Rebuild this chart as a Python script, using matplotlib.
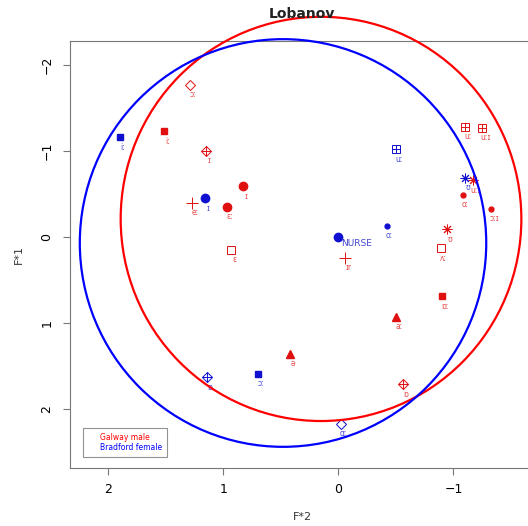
import matplotlib
matplotlib.use("Agg")
import matplotlib.pyplot as plt
from matplotlib.patches import Ellipse
from matplotlib.lines import Line2D

# Galway male vowels (F*2, F*1), Lobanov normalised
galway_x = [1.29, 1.51, 1.15, 0.83, 1.27, 0.97, 0.93, 0.42, -0.50, -0.90,
            -0.89, -0.94, -1.08, -1.33, -1.17, -1.10, -1.25, -0.06, -0.56]
galway_y = [-1.77, -1.23, -1.00, -0.59, -0.40, -0.35, 0.15, 1.36, 0.93, 0.69,
            0.13, -0.09, -0.49, -0.33, -0.66, -1.28, -1.27, 0.24, 1.71]
galway_lab = ["ɔː", "iː", "ɪ", "ɪ", "eː", "ɛː", "ɛ", "ə", "aː", "ɒː",
              "ʌː", "ʊ", "oː", "ɔːɪ", "uːɪ", "uː", "uːɪ", "ɪr", "ɒ"]
galway_pch = ["odiamond", "square", "diamondplus", "circle", "plus", "circle",
              "osquare", "triangle", "triangle", "square", "osquare", "asterisk",
              "dot", "dot", "asterisk", "squareplus", "squareplus", "plus",
              "diamondplus"]

# Bradford female vowels
bradford_x = [1.90, 1.16, -0.50, -1.10, -0.42, 0.0, 0.70, 1.14, -0.02]
bradford_y = [-1.16, -0.45, -1.02, -0.69, -0.13, 0.0, 1.59, 1.63, 2.17]
bradford_lab = ["iː", "ɪ", "uː", "ʊ", "oː", "NURSE", "ɔː", "ɒ", "ɑː"]
bradford_pch = ["square", "circle", "squareplus", "asterisk", "dot", "circle",
                "square", "diamondplus", "odiamond"]

# circles: centre x, centre y, half-width, half-height (data units)
galway_circle = (0.15, -0.21, 1.74, 2.35)
bradford_circle = (0.48, 0.07, 1.765, 2.37)


def draw_point(ax, x, y, kind, col):
    if kind == "odiamond":
        ax.plot(x, y, marker="D", ms=5.5, mfc="none", mec=col, mew=0.7, color=col)
    elif kind == "square":
        ax.plot(x, y, marker="s", ms=5, color=col)
    elif kind == "osquare":
        ax.plot(x, y, marker="s", ms=5.5, mfc="none", mec=col, mew=0.7, color=col)
    elif kind == "diamondplus":
        ax.plot(x, y, marker="D", ms=5.5, mfc="none", mec=col, mew=0.7, color=col)
        ax.plot(x, y, marker="+", ms=7, mec=col, mew=0.7, color=col)
    elif kind == "squareplus":
        ax.plot(x, y, marker="s", ms=5.5, mfc="none", mec=col, mew=0.7, color=col)
        ax.plot(x, y, marker="+", ms=5.5, mec=col, mew=0.7, color=col)
    elif kind == "circle":
        ax.plot(x, y, marker="o", ms=6, color=col)
    elif kind == "dot":
        ax.plot(x, y, marker="o", ms=3.5, color=col)
    elif kind == "plus":
        ax.plot(x, y, marker="+", ms=8, mec=col, mew=0.7, color=col)
    elif kind == "triangle":
        ax.plot(x, y, marker="^", ms=6, color=col)
    elif kind == "asterisk":
        ax.plot(x, y, marker=(8, 2, 0), ms=7, mec=col, mew=0.7, color=col)


fig = plt.figure(figsize=(5.28, 5.26), dpi=100)
ax = fig.add_axes([0.1326, 0.1103, 0.8788, 0.8118])

for xs, ys, labs, pchs, col in [
        (galway_x, galway_y, galway_lab, galway_pch, "#e01010"),
        (bradford_x, bradford_y, bradford_lab, bradford_pch, "#1010d0")]:
    for x, y, lab, p in zip(xs, ys, labs, pchs):
        draw_point(ax, x, y, p, col)
        if lab == "NURSE":
            ax.annotate(lab, (x, y), xytext=(3, -7), textcoords="offset pixels",
                        ha="left", va="center", fontsize=6.5, color="#4444cc")
        else:
            ax.annotate(lab, (x, y), xytext=(3, -10), textcoords="offset pixels",
                        ha="center", va="center", fontsize=5.5, color=col,
                        alpha=0.75)

for (cx, cy, rx, ry), col in [(galway_circle, "red"), (bradford_circle, "blue")]:
    ax.add_patch(Ellipse((cx, cy), 2 * rx, 2 * ry, fill=False, edgecolor=col,
                         lw=1.6, clip_on=False, zorder=3))

ax.set_xlim(2.33, -1.70)
ax.set_ylim(2.686, -2.279)
ax.set_xticks([2, 1, 0, -1])
ax.set_yticks([-2, -1, 0, 1, 2])
ax.set_xticklabels(["2", "1", "0", "\u22121"])
ax.set_yticklabels(["\u22122", "\u22121", "0", "1", "2"], rotation=90, va="center")
for s in ax.spines.values():
    s.set_color("#777777")
ax.tick_params(direction="out", length=5, width=0.8, color="#777777",
               labelsize=9, pad=6)
ax.tick_params(axis="y", pad=7)

ax.set_xlabel("F*2", fontsize=8, labelpad=11, color="#333333")
ax.set_ylabel("F*1", fontsize=8, labelpad=12, color="#333333")
fig.text(0.572, 0.973, "Lobanov", ha="center", va="center", fontsize=10,
         fontweight="bold", color="#222222")

handles = [Line2D([], [], linestyle="none"), Line2D([], [], linestyle="none")]
leg = ax.legend(handles, ["Galway male", "Bradford female"],
                labelcolor=["red", "blue"], loc="lower left",
                bbox_to_anchor=(0.02, 0.017), fontsize=5.5, fancybox=False,
                handlelength=1.4, handletextpad=0.2, borderpad=0.6,
                labelspacing=0.2)
leg.get_frame().set_edgecolor("#777777")
leg.get_frame().set_linewidth(0.8)

fig.savefig("out.png", dpi=100)
